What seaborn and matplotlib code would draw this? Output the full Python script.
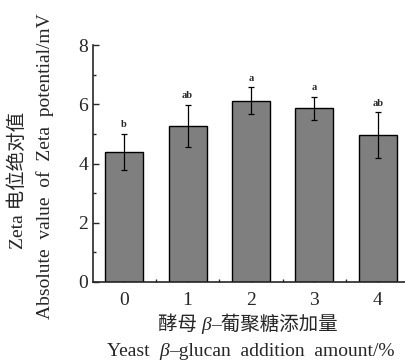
import matplotlib
matplotlib.use("Agg")
import matplotlib.pyplot as plt
import seaborn as sns
import pandas as pd
from matplotlib.ticker import MultipleLocator, FixedLocator
from matplotlib.offsetbox import TextArea, HPacker, AnchoredOffsetbox

# Data
amounts = ["0", "1", "2", "3", "4"]
zeta = [4.40, 5.28, 6.12, 5.86, 4.96]
errors = [0.61, 0.71, 0.45, 0.40, 0.77]
letters = ["b", "ab", "a", "a", "ab"]

df = pd.DataFrame({"amount": amounts, "zeta": zeta})

sns.set_style("ticks")
plt.rcParams["font.family"] = ["Liberation Serif", "Noto Sans CJK SC"]

fig = plt.figure(figsize=(4.05, 3.61), dpi=100)
ax = fig.add_axes([0.23, 0.219, 0.77, 0.656])

sns.barplot(x="amount", y="zeta", data=df, color="#7f7f7f", saturation=1,
            width=0.6, edgecolor="black", linewidth=1.0, ax=ax)
ax.errorbar(range(len(amounts)), zeta, yerr=errors, fmt="none",
            ecolor="black", elinewidth=0.9, capsize=2.5, capthick=0.9)

for i, (v, e, t) in enumerate(zip(zeta, errors, letters)):
    ax.text(i, v + e + 0.15, t, ha="center", va="bottom",
            fontsize=7.5, fontweight="bold")

ax.set_ylim(0, 8)
ax.set_xlim(-0.49, 4.43)
ax.yaxis.set_major_locator(MultipleLocator(2))
ax.yaxis.set_minor_locator(MultipleLocator(1))
ax.xaxis.set_minor_locator(FixedLocator([0.5, 1.5, 2.5, 3.5]))
ax.tick_params(axis="both", which="major", direction="in", length=4,
               width=1, labelsize=14)
ax.tick_params(axis="both", which="minor", direction="in", length=2.5, width=1)
ax.tick_params(axis="x", pad=7)
ax.set_xlabel("")
ax.set_ylabel("")

sns.despine(ax=ax, top=True, right=True)
for s in ["left", "bottom"]:
    ax.spines[s].set_linewidth(1.2)

# y axis title, two lines
fig.text(18 / 405, 1 - 180 / 361, "Zeta 电位绝对值", rotation=90,
         ha="center", va="center", fontsize=14)
fig.text(45 / 405, 1 - 166 / 361, "Absolute  value  of  Zeta  potential/mV",
         rotation=90, ha="center", va="center", fontsize=14)


# x axis title, two lines with italic beta
def line(parts, x, y):
    boxes = [TextArea(s, textprops=dict(fontsize=14, fontstyle=st)) for s, st in parts]
    pack = HPacker(children=boxes, align="baseline", pad=0, sep=0)
    box = AnchoredOffsetbox(loc="center", child=pack, frameon=False, pad=0,
                            borderpad=0, bbox_to_anchor=(x / 405, 1 - y / 361),
                            bbox_transform=fig.transFigure)
    ax.add_artist(box)


line([("酵母 ", "normal"), ("β", "italic"), ("–葡聚糖添加量", "normal")], 248, 325)
line([("Yeast  ", "normal"), ("β", "italic"),
      ("–glucan  addition  amount/%", "normal")], 251, 351)

fig.savefig("out.png", dpi=100)
